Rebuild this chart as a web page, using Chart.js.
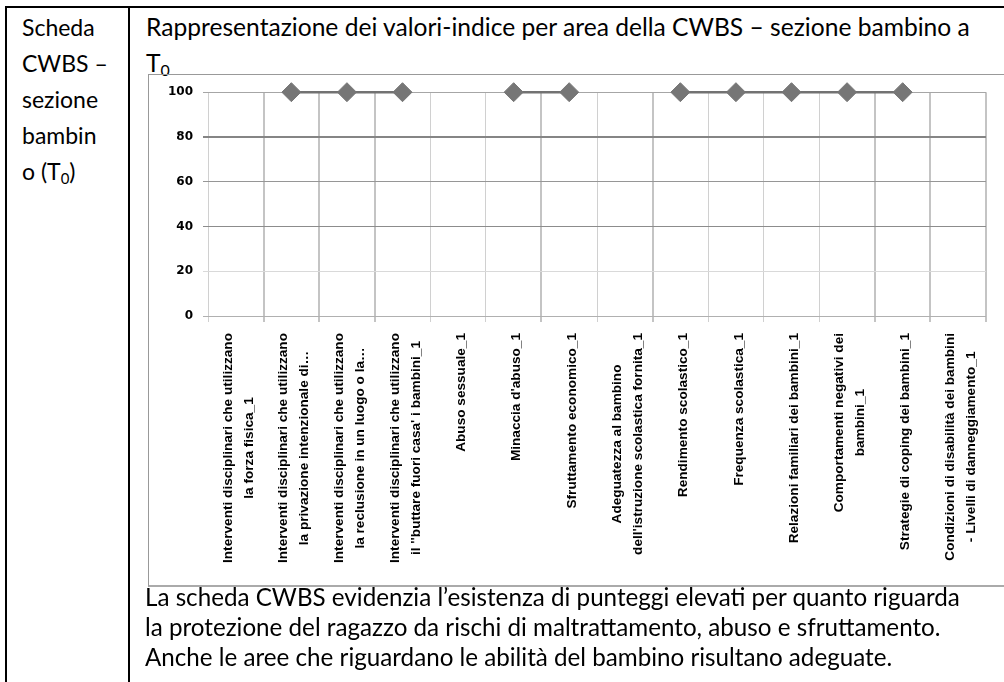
<!DOCTYPE html>
<html lang="it">
<head>
<meta charset="UTF-8">
<title>Scheda CWBS – sezione bambino</title>
<style>
  body { margin: 0; background: #fff; color: #000; font-family: Lato, "Open Sans", sans-serif; }
  .frame { position: absolute; left: 5px; top: 6px; width: 1100px; height: 700px; border-left: 2px solid #000; border-top: 2px solid #000; }
  .divider { position: absolute; left: 128px; top: 6px; width: 2px; height: 700px; background: #000; }
  .cell-left { position: absolute; left: 22px; top: 9px; font-size: 23px; line-height: 36px; }
  .title { position: absolute; left: 146px; top: 9px; font-size: 24.6px; line-height: 36px; white-space: nowrap; }
  .box { position: absolute; left: 148px; top: 74px; width: 900px; height: 510px; border: 1px solid #999; border-bottom: 2px solid #aaa; }
  .box canvas { position: absolute; left: 0; top: 0; }
  .note { position: absolute; left: 145px; top: 582px; font-size: 24.2px; line-height: 30px; white-space: nowrap; }
  sub { font-size: 65%; vertical-align: -0.25em; line-height: 0; }
</style>
</head>
<body>
  <div class="frame"></div>
  <div class="divider"></div>

  <div class="cell-left">Scheda<br>CWBS –<br>sezione<br>bambin<br>o (T<sub>0</sub>)</div>

  <div class="title">Rappresentazione dei valori-indice per area della CWBS – sezione bambino a<br>T<sub>0</sub></div>

  <div class="box">
    <canvas id="cwbsChart" width="855" height="510"></canvas>
  </div>

  <div class="note">La scheda CWBS evidenzia l’esistenza di punteggi elevati per quanto riguarda<br>la protezione del ragazzo da rischi di maltrattamento, abuso e sfruttamento.<br>Anche le aree che riguardano le abilità del bambino risultano adeguate.</div>

  <script src="https://cdn.jsdelivr.net/npm/chart.js"></script>
  <script>
    // areas of the CWBS child section (each entry = label lines)
    var categories = [
      ['Interventi disciplinari che utilizzano', 'la forza fisica_1'],
      ['Interventi disciplinari che utilizzano', 'la privazione intenzionale di…'],
      ['Interventi disciplinari che utilizzano', 'la reclusione in un luogo o la…'],
      ['Interventi disciplinari che utilizzano', "il ''buttare fuori casa' i bambini_1"],
      ['Abuso sessuale_1'],
      ["Minaccia d'abuso_1"],
      ['Sfruttamento economico_1'],
      ['Adeguatezza al bambino', "dell'istruzione scolastica fornita_1"],
      ['Rendimento scolastico_1'],
      ['Frequenza scolastica_1'],
      ['Relazioni familiari dei bambini_1'],
      ['Comportamenti negativi dei', 'bambini_1'],
      ['Strategie di coping dei bambini_1'],
      ['Condizioni di disabilità dei bambini', '- Livelli di danneggiamento_1']
    ];
    // index values at T0 (null = no score)
    var indexValues = [null, 100, 100, 100, null, 100, 100, null, 100, 100, 100, 100, 100, null];
    var yTicks = [0, 20, 40, 60, 80, 100];

    // horizontal grid look per tick value
    var hGridColor = { 100: '#a6a6a6', 80: '#858585', 60: '#969696', 40: '#8c8c8c', 20: '#d9d9d9', 0: '#b0b0b0' };
    var hGridWidth = { 80: 2 };
    // vertical grid lines drawn heavier
    var thickV = [1, 2, 3, 6, 8, 12, 13, 14];

    function vIndex(c) {
      return c.index === undefined ? categories.length : c.index;
    }

    // rotated category labels, lines centred on each other
    var xLabels = {
      id: 'xLabels',
      afterDraw: function(chart) {
        var ctx = chart.ctx;
        var xs = chart.scales.x;
        ctx.save();
        ctx.fillStyle = '#000';
        ctx.font = 'bold 13px "Liberation Sans"';
        var squeeze = 230 / ctx.measureText(categories[0][0]).width;
        var top = chart.chartArea.bottom + 17;
        categories.forEach(function(lines, i) {
          var x = xs.getPixelForValue(i) + 3;
          var w = Math.max.apply(null, lines.map(function(l) { return ctx.measureText(l).width; }));
          ctx.save();
          ctx.translate(x, top);
          ctx.rotate(-Math.PI / 2);
          ctx.scale(squeeze, 1);
          ctx.textAlign = 'center';
          ctx.textBaseline = 'middle';
          lines.forEach(function(l, j) {
            ctx.fillText(l, -w / 2, (j - (lines.length - 1) / 2) * 21);
          });
          ctx.restore();
        });
        ctx.restore();
      }
    };

    new Chart(document.getElementById('cwbsChart'), {
      type: 'line',
      data: {
        labels: categories,
        datasets: [{
          label: 'T0',
          data: indexValues,
          clip: false,
          borderColor: '#727272',
          borderWidth: 2.5,
          pointStyle: 'rectRot',
          pointRadius: 9.5,
          pointBackgroundColor: '#767676',
          pointBorderColor: '#767676',
          pointBorderWidth: 1,
          spanGaps: false,
          tension: 0
        }]
      },
      options: {
        responsive: false,
        animation: false,
        layout: { padding: { top: 17, right: 18, left: 0, bottom: 0 } },
        plugins: { legend: { display: false }, tooltip: { enabled: false } },
        scales: {
          x: {
            offset: true,
            afterFit: function(scale) { scale.height = 269; },
            ticks: { display: false },
            border: { display: false },
            grid: {
              offset: true,
              tickLength: 6,
              color: function(c) { return thickV.indexOf(vIndex(c)) >= 0 ? '#c4c4c4' : '#d0d0d0'; },
              lineWidth: function(c) { return thickV.indexOf(vIndex(c)) >= 0 ? 2 : 1; }
            }
          },
          y: {
            min: 0,
            max: 100,
            afterFit: function(scale) { scale.width = 59; },
            afterBuildTicks: function(scale) {
              scale.ticks = yTicks.map(function(v) { return { value: v }; });
            },
            border: { display: false },
            ticks: {
              padding: 10,
              color: '#000',
              font: { family: 'DejaVu Sans', weight: 'bold', size: 12 }
            },
            grid: {
              tickLength: 5,
              color: function(c) { return c.tick ? (hGridColor[c.tick.value] || '#aaa') : '#aaa'; },
              lineWidth: function(c) { return c.tick ? (hGridWidth[c.tick.value] || 1) : 1; }
            }
          }
        }
      },
      plugins: [xLabels]
    });
  </script>
</body>
</html>
